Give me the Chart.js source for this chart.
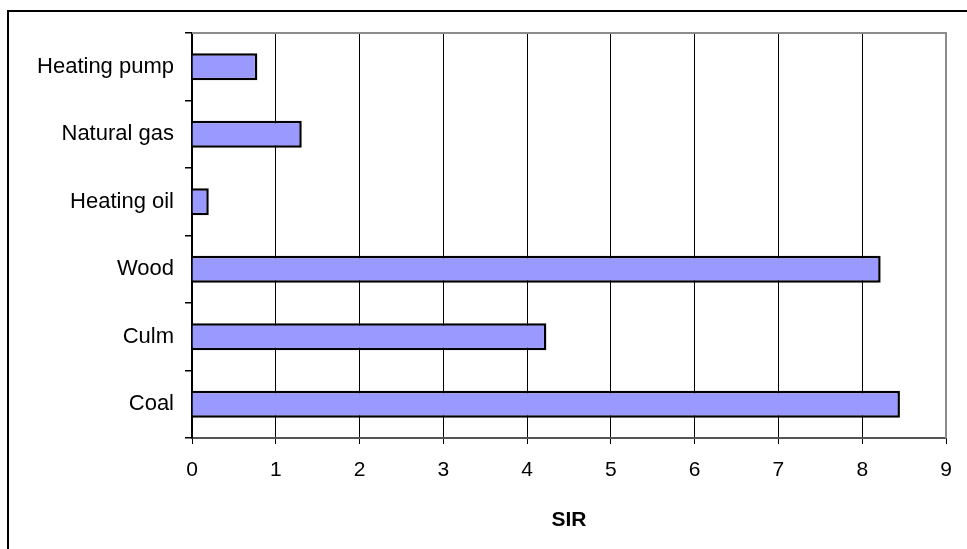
<!DOCTYPE html>
<html>
<head>
<meta charset="utf-8">
<script src="https://cdn.jsdelivr.net/npm/chart.js@4/dist/chart.umd.min.js"></script>
<style>
  html,body{margin:0;padding:0;background:#fff;}
  #wrap{width:967px;height:549px;position:relative;}
</style>
</head>
<body>
<div id="wrap"><canvas id="c" width="967" height="549"></canvas></div>
<script>
const categories = ['Heating pump','Natural gas','Heating oil','Wood','Culm','Coal']
const sirValues  = [0.78, 1.31, 0.2, 8.22, 4.23, 8.45]
const xTicks     = [0,1,2,3,4,5,6,7,8,9]

const FONT = "'Liberation Sans', Arial, sans-serif"

// outer frame + grey plot border like the spreadsheet original
const framePlugin = {
  id:'frame',
  beforeDraw(chart){
    const ctx = chart.ctx
    ctx.save()
    ctx.fillStyle = '#fff'
    ctx.fillRect(0,0,chart.width,chart.height)
    ctx.strokeStyle = '#000'
    ctx.lineWidth = 2
    ctx.strokeRect(8,11,chart.width+20,chart.height+20)
    ctx.restore()
  },
  afterDraw(chart){
    const a = chart.chartArea, ctx = chart.ctx
    ctx.save()
    ctx.strokeStyle = '#8c8c8c'
    ctx.lineWidth = 2
    ctx.beginPath()
    ctx.moveTo(a.left, a.top)
    ctx.lineTo(a.right, a.top)
    ctx.lineTo(a.right, a.bottom)
    ctx.stroke()
    ctx.restore()
  }
}

new Chart(document.getElementById('c'),{
  type:'bar',
  data:{
    labels:categories,
    datasets:[{
      label:'SIR', data:sirValues,
      backgroundColor:'#9999FF', borderColor:'#000', borderWidth:2.5,
      barPercentage:0.4, categoryPercentage:1
    }]
  },
  options:{
    indexAxis:'y',
    responsive:false, animation:false,
    layout:{ padding:{ top:33, right:21, left:0, bottom:0 } },
    plugins:{ legend:{display:false}, tooltip:{enabled:false} },
    scales:{
      x:{
        min:0, max:9,
        afterBuildTicks:s=>{ s.ticks = xTicks.map(v=>({value:v})) },
        afterFit:s=>{ s.height = 111 },
        grid:{ color:'#000', lineWidth:1, tickLength:6, drawOnChartArea:true },
        border:{ display:true, color:'#555', width:2 },
        ticks:{ color:'#000', padding:14, font:{family:FONT,size:21}, maxRotation:0 },
        title:{ display:true, text:'SIR', color:'#000', font:{family:FONT,size:21,weight:'bold'}, padding:{top:0,bottom:16} }
      },
      y:{
        afterFit:s=>{ s.width = 192 },
        grid:{ offset:true, drawOnChartArea:false, color:'#000', tickLength:7, lineWidth:1.5 },
        border:{ display:true, color:'#000', width:2 },
        ticks:{ color:'#000', padding:11, font:{family:FONT,size:22} }
      }
    }
  },
  plugins:[framePlugin]
})
</script>
</body>
</html>
